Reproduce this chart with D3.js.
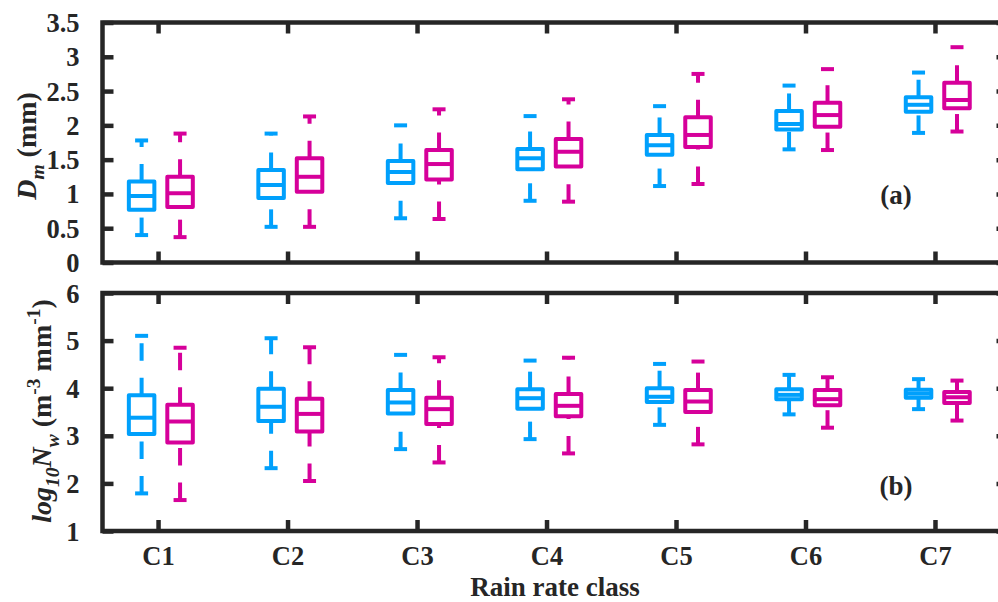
<!DOCTYPE html>
<html>
<head>
<meta charset="utf-8">
<script src="https://cdn.jsdelivr.net/npm/d3@7"></script>
<style>
  html, body { margin: 0; padding: 0; background: #fff; }
  svg { display: block; }
  text { font-family: "Liberation Serif", "Times New Roman", serif; font-weight: bold; fill: #262626; }
</style>
</head>
<body>
<svg id="chart" width="998" height="602"></svg>
<script>
// Rain rate classes along the x axis
const classes = ["C1", "C2", "C3", "C4", "C5", "C6", "C7"];

// Tick values of the two panels
const dmTicks = [0, 0.5, 1, 1.5, 2, 2.5, 3, 3.5];
const nwTicks = [1, 2, 3, 4, 5, 6];

// Box summaries per class: [lower whisker, Q1, median, Q3, upper whisker]
const dmBlue = [
  [0.40, 0.77, 0.97, 1.18, 1.78],
  [0.52, 0.94, 1.13, 1.35, 1.88],
  [0.645, 1.16, 1.32, 1.48, 2.00],
  [0.90, 1.36, 1.52, 1.655, 2.135],
  [1.115, 1.57, 1.71, 1.86, 2.28],
  [1.65, 1.94, 2.02, 2.21, 2.58],
  [1.89, 2.20, 2.30, 2.41, 2.77]
];
const dmMagenta = [
  [0.37, 0.81, 1.01, 1.25, 1.88],
  [0.52, 1.03, 1.25, 1.52, 2.13],
  [0.634, 1.21, 1.436, 1.64, 2.234],
  [0.887, 1.40, 1.615, 1.80, 2.38],
  [1.145, 1.685, 1.86, 2.12, 2.75],
  [1.64, 1.98, 2.15, 2.33, 2.82],
  [1.91, 2.25, 2.37, 2.62, 3.14]
];
const nwBlue = [
  [1.79, 3.04, 3.38, 3.85, 5.10],
  [2.32, 3.31, 3.61, 3.99, 5.05],
  [2.72, 3.47, 3.70, 3.96, 4.70],
  [2.93, 3.57, 3.79, 3.98, 4.58],
  [3.23, 3.71, 3.82, 4.00, 4.51],
  [3.45, 3.77, 3.86, 3.98, 4.28],
  [3.56, 3.80, 3.885, 3.97, 4.19]
];
const nwMagenta = [
  [1.65, 2.86, 3.30, 3.65, 4.85],
  [2.05, 3.09, 3.46, 3.78, 4.86],
  [2.44, 3.25, 3.56, 3.80, 4.65],
  [2.63, 3.41, 3.63, 3.88, 4.64],
  [2.82, 3.50, 3.72, 3.96, 4.56],
  [3.17, 3.64, 3.77, 3.96, 4.23],
  [3.32, 3.69, 3.81, 3.92, 4.16]
];

const colors = { blue: "#00a0fc", magenta: "#d6009a" };
const axisColor = "#262626";

const svg = d3.select("#chart");

// Shared horizontal layout (class index 1..7)
const plotLeft = 102.5, plotRight = 1007.5;
const x = d3.scaleLinear().domain([0.571, 7.56]).range([plotLeft, plotRight]);
const unit = x(2) - x(1);
const seriesOffset = { blue: -0.127, magenta: 0.17 };
const boxWidth = 0.197 * unit;
const capHalf = 6.5;
const lw = 4;
const frameW = 4.5;
const tickLen = 11;
const tickFont = 26.5;

function drawPanel(cfg) {
  const y = d3.scaleLinear().domain(cfg.domain).range([cfg.bottom, cfg.top]);
  const g = svg.append("g");

  // boxes
  cfg.series.forEach(s => {
    const sg = g.append("g")
      .attr("stroke", colors[s.key])
      .attr("fill", "none")
      .attr("stroke-width", lw);
    s.values.forEach((v, i) => {
      const cx = x(i + 1 + seriesOffset[s.key]);
      const [lo, q1, med, q3, hi] = v;
      // dashed whiskers
      sg.append("line")
        .attr("x1", cx).attr("x2", cx)
        .attr("y1", y(q3)).attr("y2", y(hi))
        .attr("stroke-dasharray", "17.5,17");
      sg.append("line")
        .attr("x1", cx).attr("x2", cx)
        .attr("y1", y(lo)).attr("y2", y(q1))
        .attr("stroke-dasharray", "17.5,17");
      // whisker caps
      [lo, hi].forEach(val => {
        sg.append("line")
          .attr("x1", cx - capHalf).attr("x2", cx + capHalf)
          .attr("y1", y(val)).attr("y2", y(val));
      });
      // box
      sg.append("rect")
        .attr("x", cx - boxWidth / 2)
        .attr("y", y(q3))
        .attr("width", boxWidth)
        .attr("height", y(q1) - y(q3))
        .attr("stroke-linejoin", "round");
      // median
      sg.append("line")
        .attr("x1", cx - boxWidth / 2).attr("x2", cx + boxWidth / 2)
        .attr("y1", y(med)).attr("y2", y(med));
    });
  });

  // frame
  g.append("rect")
    .attr("x", plotLeft).attr("y", cfg.top)
    .attr("width", plotRight - plotLeft)
    .attr("height", cfg.bottom - cfg.top)
    .attr("fill", "none")
    .attr("stroke", axisColor)
    .attr("stroke-width", frameW);

  // left and right y ticks (pointing inward)
  const yAxisL = d3.axisLeft(y).tickValues(cfg.ticks).tickSize(-tickLen).tickPadding(tickLen + 12)
    .tickFormat(d3.format("~g"));
  const yl = g.append("g").attr("transform", `translate(${plotLeft},0)`).call(yAxisL);
  yl.select(".domain").remove();
  yl.selectAll(".tick line").attr("stroke", axisColor).attr("stroke-width", frameW);
  yl.selectAll(".tick text")
    .attr("font-size", tickFont)
    .attr("font-family", null)
    .attr("fill", axisColor)
    .attr("dy", "0.34em");

  const yAxisR = d3.axisRight(y).tickValues(cfg.ticks).tickSize(-tickLen).tickFormat("");
  const yr = g.append("g").attr("transform", `translate(${plotRight},0)`).call(yAxisR);
  yr.select(".domain").remove();
  yr.selectAll(".tick line").attr("stroke", axisColor).attr("stroke-width", frameW);

  // x ticks at top and bottom (pointing inward)
  const xTicks = d3.range(1, classes.length + 1);
  const xb = g.append("g").attr("transform", `translate(0,${cfg.bottom})`)
    .call(d3.axisBottom(x).tickValues(xTicks).tickSize(-tickLen).tickPadding(tickLen + 4)
      .tickFormat(cfg.xLabels ? (d => classes[d - 1]) : ""));
  xb.select(".domain").remove();
  xb.selectAll(".tick line").attr("stroke", axisColor).attr("stroke-width", frameW);
  xb.selectAll(".tick text")
    .attr("font-size", tickFont)
    .attr("font-family", null)
    .attr("fill", axisColor);

  const xt = g.append("g").attr("transform", `translate(0,${cfg.top})`)
    .call(d3.axisTop(x).tickValues(xTicks).tickSize(-tickLen).tickFormat(""));
  xt.select(".domain").remove();
  xt.selectAll(".tick line").attr("stroke", axisColor).attr("stroke-width", frameW);

  // panel tag
  g.append("text")
    .attr("x", 896).attr("y", cfg.tagY)
    .attr("text-anchor", "middle")
    .attr("font-size", 27)
    .text(cfg.tag);

  return y;
}

drawPanel({
  domain: [0, 3.5], top: 22.5, bottom: 262.5, ticks: dmTicks, xLabels: false,
  series: [{ key: "blue", values: dmBlue }, { key: "magenta", values: dmMagenta }],
  tag: "(a)", tagY: 204
});

drawPanel({
  domain: [1, 6], top: 293, bottom: 531, ticks: nwTicks, xLabels: true,
  series: [{ key: "blue", values: nwBlue }, { key: "magenta", values: nwMagenta }],
  tag: "(b)", tagY: 495
});

// axis titles
const labelSize = 28;
svg.append("text")
  .attr("x", (plotLeft + plotRight) / 2).attr("y", 596)
  .attr("text-anchor", "middle")
  .attr("font-size", 27)
  .text("Rain rate class");

const yl1 = svg.append("text")
  .attr("transform", "translate(36,146) rotate(-90)")
  .attr("text-anchor", "middle")
  .attr("font-size", labelSize);
yl1.append("tspan").attr("font-style", "italic").text("D");
yl1.append("tspan").attr("font-style", "italic").attr("font-size", 19.5).attr("dy", 8).text("m");
yl1.append("tspan").attr("dy", -8).text(" (mm)");

const yl2 = svg.append("text")
  .attr("transform", "translate(51,411) rotate(-90)")
  .attr("text-anchor", "middle")
  .attr("font-size", labelSize);
yl2.append("tspan").attr("font-style", "italic").text("log");
yl2.append("tspan").attr("font-style", "italic").attr("font-size", 19.5).attr("dy", 8).text("10");
yl2.append("tspan").attr("font-style", "italic").attr("dy", -8).text("N");
yl2.append("tspan").attr("font-style", "italic").attr("font-size", 19.5).attr("dy", 8).text("w");
yl2.append("tspan").attr("dy", -8).text(" (m");
yl2.append("tspan").attr("font-size", 19.5).attr("dy", -11).text("-3");
yl2.append("tspan").attr("dy", 11).text(" mm");
yl2.append("tspan").attr("font-size", 19.5).attr("dy", -11).text("-1");
yl2.append("tspan").attr("dy", 11).text(")");
</script>
</body>
</html>
